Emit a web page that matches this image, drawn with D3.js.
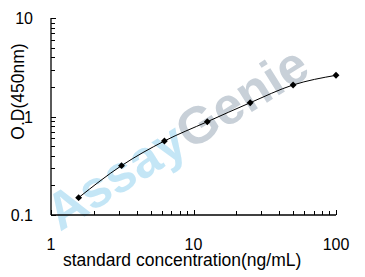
<!DOCTYPE html>
<html>
<head>
<meta charset="utf-8">
<script src="https://cdn.jsdelivr.net/npm/d3@7"></script>
<style>
  body { margin: 0; background: #fff; }
  text { font-family: "Liberation Sans", Arial, sans-serif; }
</style>
</head>
<body>
<script>
// standard curve data
var conc = [1.5625, 3.125, 6.25, 12.5, 25, 50, 100]
var od = [0.150, 0.317, 0.564, 0.885, 1.38, 2.09, 2.62]
var xTicks = [1, 10, 100]
var yTicks = [0.1, 1, 10]

var W = 365, H = 277
var m = {left: 51, right: 336, top: 18, bottom: 215}

var svg = d3.select("body").append("svg")
    .attr("width", W).attr("height", H)

var x = d3.scaleLog().domain([1, 100]).range([m.left, m.right])
var y = d3.scaleLog().domain([0.1, 10]).range([m.bottom, m.top])

// watermark
var wm = svg.append("text")
    .attr("transform", "translate(60,232) rotate(-32)")
    .attr("font-size", 52).attr("font-weight", "bold")
wm.append("tspan").attr("fill", "#c4e6f6").text("Assay")
wm.append("tspan").attr("fill", "#c8d0d8").text("Genie")

// minor + major tick values
function logTicks(lo, hi) {
  var t = []
  for (var d = lo; d < hi * 0.99; d *= 10)
    for (var k = 1; k < 10; k++) t.push(d * k)
  t.push(hi)
  return t
}
var isMajor = function(v){ return Math.abs(Math.log10(v) - Math.round(Math.log10(v))) < 1e-9 }

// axis lines
svg.append("line").attr("x1", m.left).attr("x2", m.left).attr("y1", m.top).attr("y2", m.bottom)
    .attr("stroke", "#000").attr("stroke-width", 1.3)
svg.append("line").attr("x1", m.left).attr("x2", m.right).attr("y1", m.bottom).attr("y2", m.bottom)
    .attr("stroke", "#000").attr("stroke-width", 1.3)

svg.selectAll(".yt").data(logTicks(0.1, 10)).enter().append("line")
    .attr("x1", m.left).attr("x2", function(d){ return m.left + (isMajor(d) ? 5 : 4) })
    .attr("y1", function(d){ return Math.round(y(d)) + 0.5 })
    .attr("y2", function(d){ return Math.round(y(d)) + 0.5 })
    .attr("stroke", "#000")

svg.selectAll(".xt").data(logTicks(1, 100)).enter().append("line")
    .attr("y1", m.bottom).attr("y2", function(d){ return m.bottom - (isMajor(d) ? 5 : 4) })
    .attr("x1", function(d){ return Math.round(x(d)) + 0.5 })
    .attr("x2", function(d){ return Math.round(x(d)) + 0.5 })
    .attr("stroke", "#000")

// tick labels
svg.selectAll(".yl").data(yTicks).enter().append("text")
    .attr("x", 33).attr("y", function(d){ return y(d) + 6 })
    .attr("text-anchor", "end").attr("font-size", 16)
    .text(function(d){ return d })

svg.selectAll(".xl").data(xTicks).enter().append("text")
    .attr("x", function(d){ return x(d) }).attr("y", 250)
    .attr("text-anchor", "middle").attr("font-size", 16)
    .text(function(d){ return d })

// axis titles
svg.append("text").attr("x", 63).attr("y", 266)
    .attr("font-size", 17.5).text("standard concentration(ng/mL)")
svg.append("text").attr("transform", "translate(24,91.5) rotate(-90)")
    .attr("text-anchor", "middle").attr("font-size", 17.5).text("O.D(450nm)")

// fitted curve
var pts = conc.map(function(c, i){ return [x(c), y(od[i])] })
svg.append("path")
    .attr("d", d3.line().curve(d3.curveMonotoneX)(pts))
    .attr("fill", "none").attr("stroke", "#000").attr("stroke-width", 1)

svg.selectAll(".pt").data(pts).enter().append("path")
    .attr("d", d3.symbol().type(d3.symbolDiamond2).size(30))
    .attr("transform", function(d){ return "translate(" + d[0] + "," + d[1] + ")" })
    .attr("fill", "#000")
</script>
</body>
</html>
